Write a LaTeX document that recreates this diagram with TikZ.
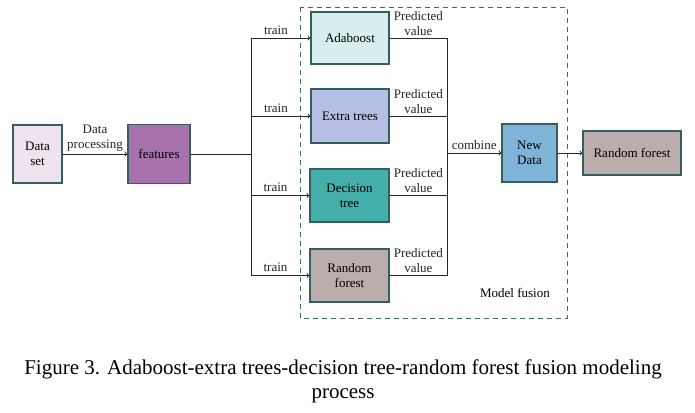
\documentclass[tikz,border=0pt]{standalone}
\usepackage{fontspec}
\setmainfont{Liberation Serif}
\usetikzlibrary{calc,arrows}

\definecolor{edgecol}{HTML}{355F5E}
\definecolor{dsfill}{HTML}{EEE3EF}
\definecolor{featfill}{HTML}{A972AE}
\definecolor{adafill}{HTML}{D6EFEE}
\definecolor{extrafill}{HTML}{B5BFE4}
\definecolor{dtfill}{HTML}{44AEAB}
\definecolor{rffill}{HTML}{BBADAB}
\definecolor{newfill}{HTML}{7FB3D7}
\definecolor{fusecol}{HTML}{3E6B6A}

\tikzset{
  box/.style={draw=edgecol, line width=1.3pt, align=center, font=\fontsize{13}{15}\selectfont, inner sep=1pt},
  lbl/.style={font=\fontsize{13}{15}\selectfont, align=center, inner sep=1pt},
  link/.style={line width=0.9pt, color=black!85},
}

\begin{document}
\begin{tikzpicture}[x=1pt,y=-1pt,>=to]
\useasboundingbox[fill=white] (0,0) rectangle (695,412);
% model fusion frame
\draw[fusecol, line width=0.9pt, dash pattern=on 5pt off 4pt] (300,7) rectangle (567,318);
\node[lbl, anchor=east] (fusion) at (551,293) {Model fusion};

% input side
\node[box, fill=dsfill, minimum width=49, minimum height=58] (ds) at (37.5,154) {Data\\set};
\node[box, fill=featfill, minimum width=62, minimum height=59] (feat) at (159,154) {features};
\draw[link,->] (ds.east) -- (feat.west) node[lbl, midway, above=1pt] {Data\\processing};

% base learners
\node[box, fill=adafill, minimum width=78, minimum height=52] (ada) at (350,38) {Adaboost};
\node[box, fill=extrafill, minimum width=78, minimum height=54] (extra) at (350,116) {Extra trees};
\node[box, fill=dtfill, minimum width=79, minimum height=53] (dt) at (349.5,195.5) {Decision\\tree};
\node[box, fill=rffill, minimum width=79, minimum height=53] (rf) at (349.5,275.5) {Random\\forest};

\coordinate (split) at (251,154);
\coordinate (merge) at (447,153);
\draw[link] (feat.east) -- (split);
\foreach \m in {ada,extra,dt,rf}{
  \draw[link,->] (split) -- (split |- \m.west) -- (\m.west)
    node[lbl, pos=0.42, above=2pt] {train};
  \draw[link] (\m.east) -- (\m.east -| merge)
    node[lbl, midway, above=1pt] {Predicted\\value} -- (merge);
}

% fusion output
\node[box, fill=newfill, minimum width=55, minimum height=58] (new) at (529.5,153) {New\\Data};
\node[box, fill=rffill, minimum width=98, minimum height=44] (final) at (632,153) {Random forest};
\draw[link,->] (merge) -- (new.west) node[lbl, midway, above=2pt] {combine};
\draw[link,->] (new.east) -- (final.west);

% caption
\node[font=\fontsize{21}{24}\selectfont, align=center] (cap) at (343,381)
  {Figure 3. Adaboost-extra trees-decision tree-random forest fusion modeling\\process};
\end{tikzpicture}
\end{document}
